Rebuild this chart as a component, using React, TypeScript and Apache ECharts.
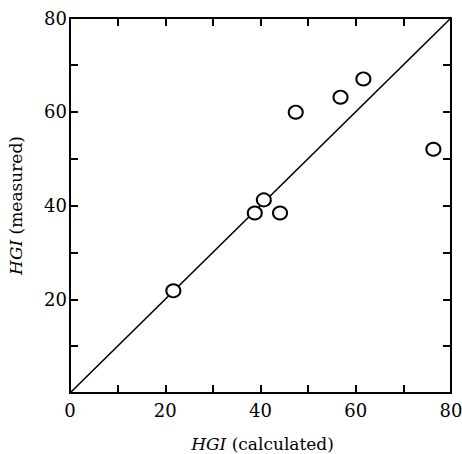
import React, { useEffect, useRef } from "react";
import * as echarts from "echarts";

const calculated = [21.7, 38.8, 40.7, 44.1, 47.4, 56.8, 61.6, 76.3];
const measured = [21.8, 38.4, 41.2, 38.4, 59.9, 63.1, 67.0, 52.0];
const parityLine = [
  [0, 0],
  [80, 80],
];
const xTickLabels = [0, 20, 40, 60, 80];
const yTickLabels = [20, 40, 60, 80];

const FONT = "'DejaVu Serif', 'Liberation Serif', serif";

export default function App() {
  const ref = useRef<HTMLDivElement>(null);
  useEffect(() => {
    if (!ref.current) return;
    const chart = echarts.init(ref.current, undefined, { renderer: "svg" });
    const axisCommon = {
      type: "value" as const,
      min: 0,
      max: 80,
      interval: 10,
      splitLine: { show: false },
      axisLine: { show: true, onZero: false, lineStyle: { color: "#000", width: 2 } },
      axisTick: { show: true, inside: true, length: 8, lineStyle: { color: "#000", width: 2 } },
    };
    const nameStyle = {
      fontFamily: FONT,
      fontSize: 17,
      color: "#000",
      rich: { i: { fontFamily: FONT, fontSize: 17, fontStyle: "italic", color: "#000" } },
    };
    chart.setOption({
      animation: false,
      backgroundColor: "#fff",
      grid: {
        left: 70,
        right: 11,
        top: 18,
        bottom: 61,
        containLabel: false,
        outerBoundsMode: "none",
      },
      xAxis: [
        {
          ...axisCommon,
          position: "bottom",
          name: "{i|HGI} (calculated)",
          nameLocation: "middle",
          nameGap: 42,
          nameTextStyle: { ...nameStyle, padding: [0, 0, 0, 4] },
          axisLabel: {
            show: true,
            margin: 8,
            fontFamily: FONT,
            fontSize: 18,
            color: "#000",
            formatter: (v: number) => (xTickLabels.includes(v) ? String(v) : ""),
          },
        },
        { ...axisCommon, position: "top", axisLabel: { show: false } },
      ],
      yAxis: [
        {
          ...axisCommon,
          position: "left",
          name: "{i|HGI} (measured)",
          nameLocation: "middle",
          nameGap: 46,
          nameTextStyle: nameStyle,
          axisLabel: {
            show: true,
            margin: 3,
            fontFamily: FONT,
            fontSize: 18,
            color: "#000",
            formatter: (v: number) => (yTickLabels.includes(v) ? String(v) : ""),
          },
        },
        { ...axisCommon, position: "right", axisLabel: { show: false } },
      ],
      series: [
        {
          type: "line",
          data: parityLine,
          symbol: "none",
          lineStyle: { color: "#000", width: 1.6 },
          silent: true,
        },
        {
          type: "scatter",
          data: calculated.map((c, i) => [c, measured[i]]),
          symbol: "circle",
          symbolSize: [14, 13],
          itemStyle: { color: "#fff", borderColor: "#000", borderWidth: 2, opacity: 1 },
          z: 3,
        },
      ],
    });
    return () => chart.dispose();
  }, []);
  return <div ref={ref} style={{ width: 462, height: 454, position: "absolute", left: 0, top: 0 }} />;
}
